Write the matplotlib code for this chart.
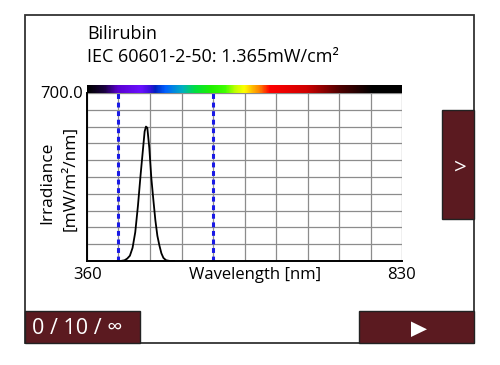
import numpy as np
import matplotlib
matplotlib.use("Agg")
import matplotlib.pyplot as plt
from matplotlib.colors import LinearSegmentedColormap
from matplotlib.patches import Rectangle, Polygon

# ---------------- data ----------------
title1 = "Bilirubin"
title2 = "IEC 60601-2-50: 1.365mW/cm\u00b2"
x_label = "Wavelength [nm]"
y_label_1 = "Irradiance"
y_label_2 = "[mW/m\u00b2/nm]"
x_min, x_max = 360, 830
y_max = 700.0
y_max_label = "700.0"
counter_text = "0 / 10 / \u221e"

wavelength = [405, 410, 416, 420, 424, 428, 432, 436, 440, 443, 446, 448,
              450, 453, 456, 459, 462, 465, 468, 471, 474, 478, 484, 490]
irradiance = [0, 0, 3, 10, 22, 55, 120, 230, 360, 450, 540, 560,
              555, 470, 345, 255, 170, 105, 65, 32, 13, 3, 0, 0]
band_limits = [407, 548]

# ---------------- styles ----------------
W, H = 500, 365
BTN = "#5b1a20"
FONT = ["Open Sans", "DejaVu Sans"]
plt.rcParams["font.family"] = FONT

spec_stops = [(360, "#000000"), (385, "#1a0040"), (405, "#5a00d0"),
              (440, "#6a10ff"), (452, "#4010e0"), (461, "#0020c0"),
              (476, "#0060ff"), (502, "#00b0c0"), (521, "#00e040"),
              (545, "#20f000"), (566, "#40ff00"), (581, "#c0ff00"),
              (595, "#ffff00"), (600, "#ffe000"), (618, "#ff8000"),
              (633, "#ff0000"), (688, "#d00000"), (737, "#500000"),
              (787, "#000000"), (830, "#000000")]
cmap = LinearSegmentedColormap.from_list(
    "spec", [((w - 360) / 470, c) for w, c in spec_stops])


def fx(px):
    return px / W


def fy(py):
    return 1 - py / H


fig = plt.figure(figsize=(W / 100, H / 100), dpi=100)
fig.patch.set_facecolor("white")

# outer frame
fig.add_artist(Rectangle((fx(25), fy(343)), (474 - 25) / W, (343 - 15) / H,
                         transform=fig.transFigure, fill=False,
                         edgecolor="#333333", lw=1.3))

# main axes
L, R, T, B = 87, 402, 93, 261
ax = fig.add_axes([fx(L), fy(B), (R - L) / W, (B - T) / H])
ax.set_xlim(x_min, x_max)
ax.set_ylim(0, y_max)
ax.set_xticks(np.arange(x_min, x_max + 1, (x_max - x_min) / 10))
ax.set_yticks(np.arange(0, y_max + 1, y_max / 10))
ax.tick_params(length=0, labelbottom=False, labelleft=False)
ax.grid(True, color="#8c8c8c", lw=0.9)
ax.set_axisbelow(True)
for s in ["top", "right"]:
    ax.spines[s].set_visible(False)
for s in ["left", "bottom"]:
    ax.spines[s].set_linewidth(1.4)
    ax.spines[s].set_color("black")
    ax.spines[s].set_zorder(5)

for b in band_limits:
    ax.axvline(b, color="#1a1ae6", lw=2.2, linestyle=(0, (1.6, 1.2)), zorder=3)
ax.plot(wavelength, irradiance, color="black", lw=1.3, zorder=4)

# spectrum bar
axb = fig.add_axes([fx(L), fy(T), (R - L) / W, 8 / H])
grad = np.linspace(x_min, x_max, 600)[None, :]
axb.imshow(grad, aspect="auto", cmap=cmap, vmin=x_min, vmax=x_max,
           extent=[x_min, x_max, 0, 1])
axb.set_axis_off()

# texts
fig.text(fx(87), fy(34), title1, fontsize=13, va="center", ha="left")
fig.text(fx(87), fy(57), title2, fontsize=13, va="center", ha="left")
fig.text(fx(83), fy(94), y_max_label, fontsize=12, va="center", ha="right")
fig.text(fx(87.5), fy(275), str(x_min), fontsize=12, va="center", ha="center")
fig.text(fx(401), fy(275), str(x_max), fontsize=12, va="center", ha="center")
fig.text(fx(255), fy(275), x_label, fontsize=12, va="center", ha="center")
fig.text(fx(47), fy(183), y_label_1, fontsize=12.5, va="center", ha="center",
         rotation=90)
fig.text(fx(70), fy(178), y_label_2, fontsize=12.5, va="center", ha="center",
         rotation=90)

# buttons
fig.add_artist(Rectangle((fx(442), fy(219)), (474 - 442) / W, (219 - 110) / H,
                         transform=fig.transFigure, facecolor=BTN,
                         edgecolor="#222222", lw=1.0))
fig.text(fx(460), fy(168), ">", color="white", fontsize=16, va="center",
         ha="center")
fig.add_artist(Rectangle((fx(25), fy(343)), (140 - 25) / W, (343 - 311) / H,
                         transform=fig.transFigure, facecolor=BTN,
                         edgecolor="#222222", lw=1.0))
fig.text(fx(32), fy(328), counter_text, color="white", fontsize=15.5,
         va="center", ha="left")
fig.add_artist(Rectangle((fx(359), fy(343)), (474 - 359) / W, (343 - 311) / H,
                         transform=fig.transFigure, facecolor=BTN,
                         edgecolor="#222222", lw=1.0))
fig.add_artist(Polygon([(fx(411), fy(321.5)), (fx(411), fy(337)),
                        (fx(427), fy(329.3))], closed=True,
                       transform=fig.transFigure, facecolor="white",
                       edgecolor="none"))

fig.savefig("out.png", dpi=100)
